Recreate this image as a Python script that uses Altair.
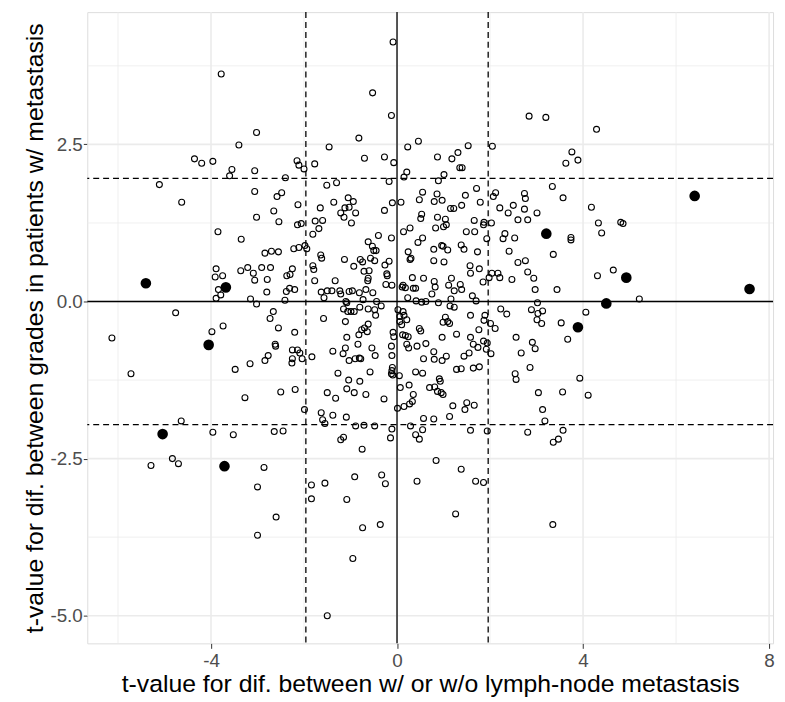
import altair as alt
import pandas as pd

# open points (t-values)
open_x = [
 -3.78,-3.02,-3.40,-4.355,-4.20,-3.96,-3.55,-3.60,-3.06,-5.11,-4.63,-3.06,-3.02,
 -0.085,-0.525,-0.12,-0.82,-1.46,0.46,0.23,-0.70,-0.27,-0.07,-2.15,-2.11,-2.0,-1.77,0.21,0.15,-2.40,-0.17,-1.51,-1.30,0.55,-2.48,-2.58,-2.13,-2.65,-1.65,-1.36,-1.05,-0.94,-1.03,-1.12,-1.21,-1.14,-0.89,-0.27,-0.10,0.085,0.48,0.53,0.51,
 2.84,3.20,4.29,1.53,2.05,1.31,1.18,0.87,1.35,1.40,1.01,0.89,3.76,3.63,3.89,0.86,0.80,0.97,1.15,1.22,1.39,1.47,1.71,1.79,2.12,2.07,2.21,2.39,2.50,2.74,2.76,2.74,3.01,3.34,3.57,4.18,0.87,1.04,1.66,2.60,2.81,4.33,4.40,4.81,4.86,
 -3.85,-3.35,-3.89,-3.91,-3.75,-3.36,-3.21,-3.09,-3.06,-3.84,-3.79,-3.89,-3.15,-3.02,-4.76,-3.98,-3.74,-6.13,-5.72,-3.48,-3.16,-3.27,-4.64,
 -2.54,-2.14,-2.06,-1.76,-1.60,-1.68,-0.98,-1.81,-0.40,-0.12,0.14,0.28,0.55,0.45,-0.62,-0.53,-0.50,-0.45,-2.84,-2.70,-2.55,-2.22,-2.11,-1.98,-1.94,-1.64,-1.62,-1.13,-0.79,-0.74,-0.57,-0.48,0.24,0.30,0.28,
 -2.91,-2.72,-2.25,-2.37,-2.30,-1.81,-1.79,-0.93,-0.71,-0.60,-0.26,-0.17,-0.22,-0.21,-0.62,-0.63,-2.79,-1.77,-1.33,0.33,0.57,-0.24,-0.11,0.13,0.18,0.11,0.35,0.40,
 -2.80,-2.38,-2.31,-2.20,-1.63,-1.57,-1.50,-1.40,-1.23,-1.21,-1.03,-0.96,-0.81,-0.67,-0.52,-0.73,0.23,0.41,0.53,0.62,-2.41,-1.10,-1.08,-0.44,-0.34,
 -2.66,-2.73,-1.58,-1.15,-1.06,-0.99,-0.92,-0.80,-0.62,-0.48,-0.46,0.02,0.13,0.06,0.15,0.21,0.06,0.10,-1.11,-2.55,-2.20,-0.62,-0.76,-0.70,-0.82,-0.64,-1.08,-0.085,-0.07,0.12,0.18,0.24,0.48,0.51,0.62,0.43,
 -2.62,-2.61,-2.25,-2.14,-2.09,-2.77,-2.84,-2.25,-2.26,-2.04,-1.83,-1.38,-1.11,-1.16,-0.84,-0.54,-0.47,-0.12,-0.11,-1.03,-0.90,-0.81,-0.78,0.21,0.25,0.57,
 -0.10,-0.11,-0.12,-0.09,0.05,0.40,0.55,-1.27,-0.58,-1.04,-0.80,-2.50,-2.19,-1.50,-1.32,-1.08,-0.92,-0.67,-0.28,0.07,0.26,0.35,0.33,0.27,0.15,0.01,0.57,
 -1.99,-1.63,-1.60,-1.55,-1.38,-1.09,-0.89,-0.71,-0.48,-0.11,0.29,-2.64,-2.45,0.55,
 0.83,1.0,1.06,1.49,1.67,1.86,1.87,2.03,1.93,2.32,2.28,2.53,3.74,3.74,0.96,0.99,1.09,0.79,1.38,1.44,1.73,2.41,3.36,0.79,1.01,1.57,1.58,1.77,2.60,2.76,2.81,2.04,2.17,2.21,1.98,2.47,2.94,2.97,3.44,4.31,
 0.80,0.82,0.75,1.17,1.11,1.23,1.36,1.39,1.85,1.62,1.16,1.70,0.89,1.14,1.23,3.02,2.23,2.36,2.89,3.03,3.13,3.01,3.11,4.06,3.53,3.67,
 1.04,1.09,0.99,1.13,1.58,1.89,1.87,2.01,2.11,1.76,1.28,0.97,1.58,1.64,1.74,1.86,1.94,1.92,2.02,2.56,2.91,2.97,2.67,
 0.79,0.80,0.97,1.06,1.44,1.55,1.28,1.38,1.64,1.77,2.86,2.54,2.56,3.93,0.91,0.93,0.81,0.70,0.87,0.95,0.99,3.04,3.56,4.11,1.20,1.50,1.46,1.66,0.79,1.13,3.13,3.18,1.58,1.94,2.81,3.57,
 4.65,5.21,
 -3.96,-3.52,-5.29,-4.83,-4.70,-3.0,-3.0,
 -1.21,-1.15,-0.14,0.40,0.48,-0.75,-2.86,-1.84,-1.55,-0.91,-0.33,-0.25,0.43,-1.84,-1.08,-2.60,-0.74,-0.36,-0.95,-1.50,
 3.36,3.47,0.84,1.38,1.69,1.86,1.26,3.35,
]
open_y = [
 3.62,2.69,2.49,2.27,2.20,2.23,2.10,2.00,2.08,1.86,1.58,1.75,1.34,
 4.13,3.32,2.96,2.60,2.46,2.55,2.46,2.28,2.30,2.21,2.24,2.17,2.11,2.19,2.06,1.98,1.97,1.91,1.85,1.89,1.74,1.73,1.67,1.54,1.44,1.49,1.58,1.65,1.59,1.50,1.49,1.41,1.34,1.41,1.45,1.57,1.58,1.62,1.39,1.32,
 2.95,2.93,2.74,2.48,2.47,2.37,2.27,2.30,2.13,2.13,2.02,1.92,2.38,2.20,2.25,1.71,1.59,1.61,1.48,1.48,1.53,1.69,1.80,1.58,1.73,1.67,1.49,1.41,1.53,1.72,1.64,1.47,1.41,1.83,1.65,1.50,1.34,1.31,1.29,1.30,1.30,1.25,1.09,1.26,1.24,
 1.11,0.99,0.52,0.39,0.41,0.49,0.54,0.45,0.34,0.19,0.105,0.05,0.04,-0.04,-0.18,-0.48,-0.39,-0.58,-1.15,-1.08,-0.99,-1.53,-1.90,
 1.27,1.22,1.24,1.28,1.29,1.16,1.25,1.07,1.05,1.01,1.11,1.17,1.01,0.94,0.95,0.88,0.81,0.81,0.77,0.80,0.79,0.84,0.86,0.89,0.84,0.74,0.69,0.67,0.67,0.63,0.69,0.65,0.79,0.69,0.67,
 0.54,0.54,0.52,0.41,0.43,0.57,0.51,0.56,0.48,0.49,0.58,0.64,0.44,0.41,0.37,0.33,0.35,0.33,0.33,0.38,0.37,0.27,0.26,0.26,0.22,0.23,0.21,0.21,
 0.15,0.16,0.21,0.19,0.15,0.06,0.17,0.17,0.17,0.12,0.16,0.17,0.14,0.19,0.14,0.03,0.06,0.01,-0.01,0.0,0.02,0.0,-0.02,0.0,-0.07,
 -0.16,-0.27,-0.27,-0.12,-0.16,-0.16,-0.16,-0.09,-0.12,-0.13,-0.22,-0.13,-0.16,-0.24,-0.22,-0.29,-0.32,-0.37,-0.32,-0.42,-0.49,-0.36,-0.45,-0.42,-0.53,-0.48,-0.57,-0.49,-0.56,-0.53,-0.54,-0.56,-0.43,-0.47,-0.67,-0.71,
 -0.68,-0.71,-0.77,-0.77,-0.82,-0.86,-0.94,-0.91,-0.98,-0.91,-0.88,-0.79,-0.74,-0.83,-0.68,-0.74,-0.86,-0.71,-0.86,-0.94,-0.91,-0.90,-0.91,-0.68,-0.74,-0.91,
 -1.05,-1.10,-1.15,-1.17,-1.18,-1.12,-1.14,-1.14,-1.12,-1.25,-1.27,-1.44,-1.40,-1.45,-1.54,-1.39,-1.45,-1.48,-1.55,-1.37,-1.33,-1.48,-1.59,-1.63,-1.67,-1.70,-1.86,
 -1.72,-1.77,-1.88,-1.94,-1.81,-1.84,-1.98,-1.97,-1.98,-2.03,-1.98,-2.07,-2.06,-2.04,
 1.17,1.19,1.22,1.11,1.11,1.22,1.26,1.25,1.0,1.08,1.0,1.01,1.02,0.98,0.89,0.88,0.82,0.83,0.90,0.83,0.79,0.80,0.75,0.65,0.63,0.57,0.45,0.52,0.62,0.65,0.47,0.45,0.45,0.38,0.38,0.35,0.37,0.19,0.19,0.41,
 0.32,0.23,0.12,0.37,0.26,0.17,0.27,0.19,0.31,0.09,0.04,0.01,-0.02,-0.07,-0.09,-0.02,-0.12,-0.20,-0.13,-0.19,-0.15,-0.29,-0.35,-0.17,-0.34,-0.60,
 -0.25,-0.32,-0.33,-0.35,-0.22,-0.22,-0.30,-0.35,-0.43,-0.45,-0.52,-0.57,-0.57,-0.68,-0.73,-0.63,-0.66,-0.76,-0.83,-0.57,-0.65,-0.75,-0.82,
 -0.80,-0.92,-0.94,-0.87,-0.87,-0.82,-1.08,-1.07,-1.06,-1.04,-1.05,-1.15,-1.24,-1.22,-1.23,-1.27,-1.36,-1.37,-1.43,-1.45,-1.48,-1.45,-1.44,-1.49,-1.66,-1.61,-1.72,-1.65,-1.87,-1.83,-1.72,-1.90,-2.05,-2.06,-2.08,-2.05,
 0.50,0.04,
 -2.08,-2.12,-2.61,-2.50,-2.58,-2.95,-3.72,
 -2.20,-2.16,-2.17,-2.12,-2.19,-2.35,-2.64,-2.92,-2.89,-2.79,-2.76,-2.90,-2.86,-3.14,-3.15,-3.43,-3.60,-3.55,-4.09,-5.0,
 -2.24,-2.19,-2.53,-2.67,-2.86,-2.88,-3.38,-3.55,
]
# highlighted (filled) points
filled_x = [-5.40, -3.68, -4.05, -5.04, -3.71, 3.21, 6.40, 7.58, 4.93, 4.50, 3.89]
filled_y = [0.29, 0.225, -0.69, -2.11, -2.62, 1.08, 1.68, 0.20, 0.38, -0.03, -0.41]

x_major = [-4, 0, 4, 8]
x_minor = [-6, -2, 2, 6]
y_major = [-5.0, -2.5, 0.0, 2.5]
y_minor = [-3.75, -1.25, 1.25, 3.75]
cut = [-1.96, 1.96]

XD = [-6.66, 8.085]
YD = [-5.44, 4.605]

n = min(len(open_x), len(open_y))
df_open = pd.DataFrame({"x": open_x[:n], "y": open_y[:n]})
df_fill = pd.DataFrame({"x": filled_x, "y": filled_y})

xs = alt.Scale(domain=XD, nice=False, zero=False)
ys = alt.Scale(domain=YD, nice=False, zero=False)
FONT = "Liberation Sans"

grid_col = "#ebebeb"
vminor = alt.Chart(pd.DataFrame({"v": x_minor})).mark_rule(color=grid_col, strokeWidth=0.8).encode(x=alt.X("v:Q", scale=xs))
hminor = alt.Chart(pd.DataFrame({"v": y_minor})).mark_rule(color=grid_col, strokeWidth=0.8).encode(y=alt.Y("v:Q", scale=ys))
vmajor = alt.Chart(pd.DataFrame({"v": x_major})).mark_rule(color=grid_col, strokeWidth=1.6).encode(x=alt.X("v:Q", scale=xs))
hmajor = alt.Chart(pd.DataFrame({"v": y_major})).mark_rule(color=grid_col, strokeWidth=1.6).encode(y=alt.Y("v:Q", scale=ys))

vcut = alt.Chart(pd.DataFrame({"v": cut})).mark_rule(color="black", strokeWidth=1.3, strokeDash=[6, 4]).encode(x=alt.X("v:Q", scale=xs))
hcut = alt.Chart(pd.DataFrame({"v": cut})).mark_rule(color="black", strokeWidth=1.3, strokeDash=[6, 4]).encode(y=alt.Y("v:Q", scale=ys))
vzero = alt.Chart(pd.DataFrame({"v": [0]})).mark_rule(color="black", strokeWidth=1.3).encode(x=alt.X("v:Q", scale=xs))
hzero = alt.Chart(pd.DataFrame({"v": [0]})).mark_rule(color="black", strokeWidth=1.3).encode(y=alt.Y("v:Q", scale=ys))

xaxis = alt.Axis(values=x_major, grid=False, title="t-value for dif. between w/ or w/o lymph-node metastasis",
                 labelExpr="replace(format(datum.value, 'd'), '\u2212', '-')",
                 labelFontSize=19, labelColor="#4d4d4d", labelFont=FONT, labelPadding=3,
                 tickColor="#333333", tickSize=5, domain=False,
                 titleFontSize=25, titleFont=FONT, titleFontWeight="normal", titleColor="black", titlePadding=2)
yaxis = alt.Axis(values=y_major, grid=False, title="t-value for dif. between grades in patients w/ metastasis",
                 labelExpr="replace(format(datum.value, '.1f'), '\u2212', '-')",
                 labelFontSize=19, labelColor="#4d4d4d", labelFont=FONT, labelPadding=1,
                 tickColor="#333333", tickSize=4, domain=False,
                 titleFontSize=25, titleFont=FONT, titleFontWeight="normal", titleColor="black", titlePadding=2)

pts_open = alt.Chart(df_open).mark_point(shape="circle", filled=False, color="black", size=36, strokeWidth=1.1, opacity=1).encode(
    x=alt.X("x:Q", scale=xs, axis=xaxis), y=alt.Y("y:Q", scale=ys, axis=yaxis))
pts_fill = alt.Chart(df_fill).mark_point(shape="circle", filled=True, color="black", size=115, opacity=1).encode(
    x=alt.X("x:Q", scale=xs), y=alt.Y("y:Q", scale=ys))

chart = alt.layer(vminor, hminor, vmajor, hmajor, vcut, hcut, vzero, hzero, pts_open, pts_fill).properties(
    width=692, height=637,
    autosize=alt.AutoSizeParams(type="none"),
    padding={"left": 80, "top": 1, "right": 4, "bottom": 56},
).configure_view(stroke="#9a9a9a", strokeWidth=1.2).configure(background="white")

chart.save("out.html", embed_options={"renderer": "svg", "actions": False})
